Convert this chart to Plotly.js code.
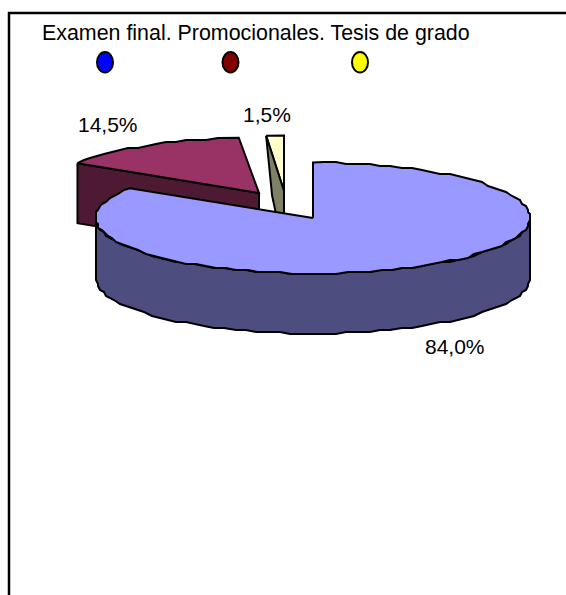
<!DOCTYPE html>
<html><head><meta charset="utf-8">
<script src="https://cdn.plot.ly/plotly-3.0.1.min.js"></script>
<style>html,body{margin:0;padding:0;background:#fff}#c{width:566px;height:595px}</style>
</head><body><div id="c"></div>
<script>
const categories = ['Examen final.', 'Promocionales.', 'Tesis de grado'];
const values = [84.0, 14.5, 1.5];
const topColors = ['#9999FF', '#993366', '#FFFFCC'];
const sideColors = ['#4D4D80', '#4D1933', '#808066'];
const legendColors = ['#0000FF', '#800000', '#FFFF00'];

const radiiX = [217, 215, 190], ry = 55.5, depth = 60, grain = 2;
const hub = [[313, 218], [259, 193], [284, 191]];
const labelPos = [[455, 346], [108, 124], [267, 114]];
const legendPos = [105, 230.5, 360];

const total = values.reduce((a, b) => a + b, 0);
let acc = 0;
const spans = values.map(v => { const s = acc; acc += v; return [s / total * 360, acc / total * 360]; });
const snap = v => Math.round(v / grain) * grain;
const pt = (i, deg, dz = 0) => {
  const r = deg * Math.PI / 180;
  return [hub[i][0] + radiiX[i] * Math.sin(r), hub[i][1] - ry * Math.cos(r) + dz];
};
const arc = (i, a, b, dz = 0) => {
  const span = Math.abs(b - a);
  if (span < 10) return [pt(i, a, dz), pt(i, b, dz)];
  const out = [], n = Math.ceil(span / 3);
  for (let k = 0; k <= n; k++) {
    const p = pt(i, a + (b - a) * k / n, dz);
    out.push(k === 0 || k === n ? p : [snap(p[0]), snap(p[1])]);
  }
  return out;
};
const poly = (points, fill) => ({
  type: 'scatter', mode: 'lines', fill: 'toself', fillcolor: fill,
  x: points.map(p => p[0]), y: points.map(p => p[1]),
  line: { color: '#000', width: 2 }, hoverinfo: 'skip', showlegend: false
});
const [blue, red, yel] = spans;
const traces = [];
// Tesis de grado
const yOut = pt(2, yel[0]);
traces.push(poly([...arc(2, yel[0], yel[1]), hub[2], yOut], topColors[2]));
traces.push(poly([yOut, hub[2], [hub[2][0], hub[2][1] + depth], [yOut[0] + 6, yOut[1] + depth], yOut], sideColors[2]));
// Promocionales
const rOut = pt(1, red[0]);
traces.push(poly([rOut, hub[1], [hub[1][0], hub[1][1] + depth], [rOut[0], rOut[1] + depth], rOut], sideColors[1]));
traces.push(poly([...arc(1, red[0], red[1]), hub[1], rOut], topColors[1]));
// Examen final
traces.push(poly([...arc(0, 90, 270), ...arc(0, 270, 90, depth), pt(0, 90)], sideColors[0]));
traces.push(poly([hub[0], ...arc(0, blue[0], blue[1]), hub[0]], topColors[0]));

const fmt = v => v.toFixed(1).replace('.', ',') + '%';
const font = { family: 'Liberation Sans, Arial, sans-serif', size: 21, color: '#000' };
const annotations = values.map((v, i) => ({
  x: labelPos[i][0], y: labelPos[i][1], xref: 'x', yref: 'y', text: fmt(v),
  showarrow: false, font, xanchor: 'center', yanchor: 'middle'
}));
annotations.push({ x: 42, y: 33, xref: 'x', yref: 'y', text: categories.join(' '),
  showarrow: false, font: { ...font, size: 21.4 }, xanchor: 'left', yanchor: 'middle', xshift: -2 });

const shapes = legendColors.map((c, i) => ({
  type: 'circle', xref: 'x', yref: 'y', x0: legendPos[i] - 8, x1: legendPos[i] + 8, y0: 52, y1: 72.5,
  fillcolor: c, line: { color: '#000', width: 2 }
}));
shapes.push({ type: 'path', xref: 'x', yref: 'y', path: 'M9,595 L9,13 L566,13',
  line: { color: '#000', width: 2.5 } });

const axis = { visible: false, fixedrange: true };
Plotly.newPlot('c', traces, {
  width: 566, height: 595, margin: { l: 0, r: 0, t: 0, b: 0 },
  paper_bgcolor: '#fff', plot_bgcolor: '#fff', showlegend: false,
  xaxis: { ...axis, range: [0, 566] }, yaxis: { ...axis, range: [595, 0] },
  shapes, annotations
}, { displayModeBar: false, staticPlot: true });
</script></body></html>
